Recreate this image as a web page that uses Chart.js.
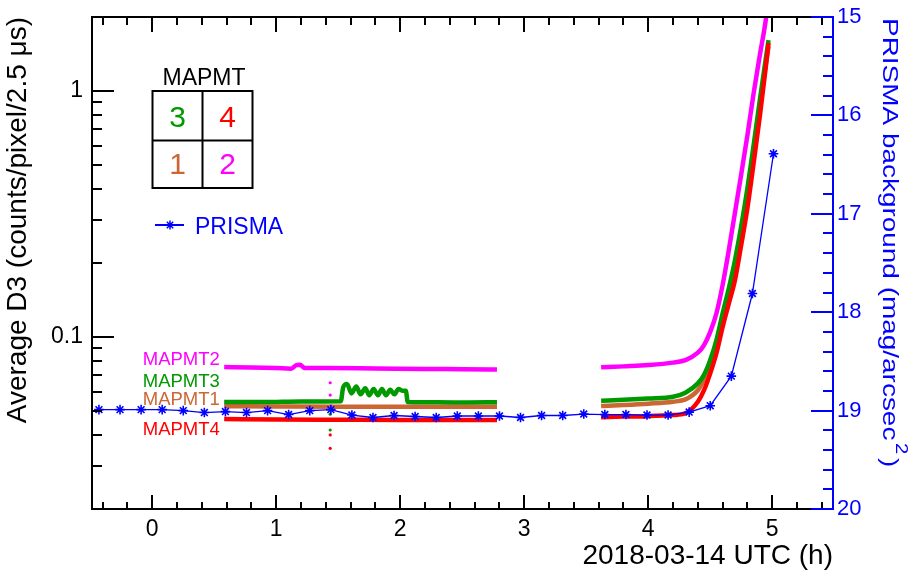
<!DOCTYPE html>
<html><head><meta charset="utf-8">
<script src="https://cdn.jsdelivr.net/npm/chart.js@4.4.0/dist/chart.umd.min.js"></script>
<style>html,body{margin:0;padding:0;background:#fff}canvas{display:block}</style>
</head><body>
<canvas id="c" width="912" height="576"></canvas>
<script>
// ---------------- data ----------------
const xTickValues = [0, 1, 2, 3, 4, 5];
const xTickLabels = ['0', '1', '2', '3', '4', '5'];
const yTickValues = [0.1, 1];
const yTickLabels = ['0.1', '1'];
const y2TickValues = [15, 16, 17, 18, 19, 20];
const y2TickLabels = ['15', '16', '17', '18', '19', '20'];

const prismaHours = [-0.43, -0.26, -0.09, 0.08, 0.25, 0.42, 0.59, 0.76, 0.93, 1.10, 1.27, 1.44, 1.61, 1.78, 1.95, 2.12, 2.29, 2.46, 2.63, 2.80, 2.97, 3.14, 3.31, 3.48, 3.65, 3.82, 3.99, 4.16, 4.33, 4.50, 4.67, 4.84, 5.01];
const prismaMag = [18.99, 18.99, 18.99, 18.99, 19.00, 19.02, 19.01, 19.02, 19.00, 19.04, 19.00, 18.99, 19.045, 19.07, 19.05, 19.06, 19.07, 19.055, 19.055, 19.055, 19.07, 19.05, 19.05, 19.035, 19.04, 19.04, 19.045, 19.045, 19.015, 18.95, 18.65, 17.81, 16.39];

const mapmt2Hours = [0.58, 0.8, 1.0, 1.12, 1.16, 1.19, 1.23, 1.4, 1.8, 2.2, 2.5, 2.78, 3.2, 3.62, 3.8, 4.0, 4.2, 4.3, 4.4, 4.45, 4.5, 4.55, 4.6, 4.65, 4.7, 4.75, 4.8, 4.85, 4.9, 4.95, 5.0];
const mapmt2D3 = [0.0755, 0.0752, 0.0748, 0.0744, 0.0768, 0.0772, 0.0748, 0.0748, 0.0745, 0.0742, 0.0740, 0.0738, null, 0.0753, 0.0760, 0.0769, 0.0787, 0.0806, 0.0864, 0.0928, 0.105, 0.125, 0.163, 0.226, 0.322, 0.46, 0.662, 0.98, 1.40, 1.98, 3.3];

const mapmt3Hours = [0.58, 0.9, 1.2, 1.52, 1.54, 1.57, 1.607, 1.645, 1.68, 1.718, 1.75, 1.785, 1.82, 1.852, 1.885, 1.919, 1.952, 1.986, 2.02, 2.045, 2.06, 2.3, 2.55, 2.78, 3.2, 3.62, 3.8, 4.0, 4.2, 4.3, 4.4, 4.45, 4.5, 4.55, 4.6, 4.65, 4.7, 4.75, 4.8, 4.85, 4.9, 4.95, 4.97];
const mapmt3D3 = [0.0545, 0.0544, 0.0547, 0.0548, 0.0625, 0.0645, 0.059, 0.063, 0.0585, 0.062, 0.058, 0.0615, 0.058, 0.0615, 0.058, 0.061, 0.0585, 0.0615, 0.0605, 0.0605, 0.0545, 0.0543, 0.0542, 0.0543, null, 0.0551, 0.0556, 0.0563, 0.0572, 0.0594, 0.0648, 0.0702, 0.0806, 0.0972, 0.125, 0.158, 0.206, 0.283, 0.403, 0.603, 0.919, 1.375, 1.61];

const mapmt1Hours = [0.58, 1.0, 1.5, 2.0, 2.4, 2.78, 3.2, 3.62, 3.8, 4.0, 4.2, 4.3, 4.4, 4.45, 4.5, 4.55, 4.6, 4.65, 4.7, 4.75, 4.8, 4.85, 4.9, 4.95, 4.97];
const mapmt1D3 = [0.0523, 0.0522, 0.0521, 0.0521, 0.0521, 0.0521, null, 0.0524, 0.0529, 0.0536, 0.0546, 0.0558, 0.0608, 0.0669, 0.0756, 0.0914, 0.117, 0.147, 0.191, 0.262, 0.374, 0.565, 0.869, 1.30, 1.52];

const mapmt4Hours = [0.58, 1.0, 1.5, 2.0, 2.4, 2.78, 3.2, 3.62, 3.8, 4.0, 4.2, 4.3, 4.4, 4.45, 4.5, 4.55, 4.6, 4.65, 4.7, 4.75, 4.8, 4.85, 4.9, 4.95, 4.97];
const mapmt4D3 = [0.0464, 0.0462, 0.0461, 0.0460, 0.0460, 0.0460, null, 0.0472, 0.0475, 0.0477, 0.0482, 0.049, 0.0546, 0.0608, 0.0712, 0.0859, 0.110, 0.137, 0.171, 0.237, 0.335, 0.51, 0.79, 1.275, 1.567];

const outlierHours = [1.435, 1.435];
const outlier2D3 = [0.0652, 0.0581];
const outlier3D3 = [0.0486, 0.0419];
const outlier4D3 = [0.0400, 0.0353];

// series label anchors (hours, D3)
const seriesLabels = ['MAPMT2', 'MAPMT3', 'MAPMT1', 'MAPMT4'];
const seriesLabelD3 = [0.0804, 0.0658, 0.0554, 0.0418];

// ---------------- styles ----------------
const C_MAG = '#ff00ff', C_GRN = '#009900', C_BRN = 'rgb(204,102,51)', C_RED = '#ff0000', C_BLU = '#0000ff';
const FONT = '"Liberation Sans", Arial, Helvetica, sans-serif';
Chart.defaults.font.family = FONT;

const pts = (xs, ys) => xs.map((x, i) => ({x: x, y: ys[i]}));
const lineDs = (label, xs, ys, color) => ({
  label, data: pts(xs, ys), borderColor: color, backgroundColor: color,
  borderWidth: 4.5, pointRadius: 0, spanGaps: false, cubicInterpolationMode: 'monotone', yAxisID: 'y'
});
const dotDs = (label, xs, ys, color) => ({
  label, data: pts(xs, ys), showLine: false, borderColor: color, backgroundColor: color,
  pointRadius: 1.6, pointBorderWidth: 0, yAxisID: 'y'
});

function drawTicks(chart) {
  const ctx = chart.ctx;
  const a = chart.chartArea;
  const sx = chart.scales.x, sy = chart.scales.y, sy2 = chart.scales.y2;
  ctx.fillStyle = '#000';
  ctx.fillRect(a.left - 1, a.top - 1, a.right - a.left + 1, 2);
  for (let i = -3; i <= 28; i++) {
    const v = i / 5;
    if (v < sx.min || v > sx.max) continue;
    const px = Math.round(sx.getPixelForValue(v));
    const major = (i % 5 === 0);
    const lb = major ? 14 : 7, lt = major ? 15 : 8;
    ctx.fillRect(px - 1, a.bottom - lb, 2, lb);
    ctx.fillRect(px - 1, a.top, 2, lt);
  }
  for (let e = -2; e <= 0; e++) {
    for (let m = 1; m <= 9; m++) {
      const v = m * Math.pow(10, e);
      if (v < sy.min * 0.999 || v > sy.max * 1.001) continue;
      const py = Math.round(sy.getPixelForValue(v));
      const len = (m === 1) ? 22 : 10;
      ctx.fillRect(a.left, py - 1, len, 2);
    }
  }
  ctx.fillStyle = C_BLU;
  for (let k = 0; k <= 25; k++) {
    const v = 15 + k / 5;
    const py = Math.round(sy2.getPixelForValue(v));
    const len = (k % 5 === 0) ? 22 : 10;
    ctx.fillRect(a.right - len, py - 1, len, 2);
  }
}

function drawDecor(chart) {
  const {ctx, scales} = chart;
  const sx = scales.x, sy = scales.y;
  const labelColors = [C_MAG, C_GRN, C_BRN, C_RED];
  ctx.font = '18.5px ' + FONT;
  ctx.textAlign = 'left'; ctx.textBaseline = 'middle';
  seriesLabels.forEach((t, i) => {
    ctx.fillStyle = labelColors[i];
    ctx.fillText(t, sx.getPixelForValue(-0.077), sy.getPixelForValue(seriesLabelD3[i]));
  });
  ctx.fillStyle = '#000';
  ctx.font = '23px ' + FONT;
  ctx.textAlign = 'center'; ctx.textBaseline = 'alphabetic';
  ctx.fillText('MAPMT', 204, 84.5);
  ctx.lineWidth = 2; ctx.strokeStyle = '#000';
  ctx.strokeRect(152.5, 91, 100, 97);
  ctx.beginPath();
  ctx.moveTo(202.5, 91); ctx.lineTo(202.5, 188);
  ctx.moveTo(152.5, 140.5); ctx.lineTo(252.5, 140.5);
  ctx.stroke();
  ctx.font = '30px ' + FONT;
  const cells = [['3', C_GRN, 177.5, 126.7], ['4', C_RED, 227.5, 126.7], ['1', C_BRN, 177.5, 174], ['2', C_MAG, 227.5, 174]];
  cells.forEach(c => { ctx.fillStyle = c[1]; ctx.fillText(c[0], c[2], c[3]); });
  ctx.strokeStyle = C_BLU; ctx.lineWidth = 2;
  ctx.beginPath(); ctx.moveTo(155, 225); ctx.lineTo(184, 225); ctx.stroke();
  ctx.lineWidth = 1.5;
  ctx.beginPath();
  const r = 4.5, cx = 170, cy = 225, d = r * 0.7071;
  ctx.moveTo(cx - r, cy); ctx.lineTo(cx + r, cy);
  ctx.moveTo(cx, cy - r); ctx.lineTo(cx, cy + r);
  ctx.moveTo(cx - d, cy - d); ctx.lineTo(cx + d, cy + d);
  ctx.moveTo(cx - d, cy + d); ctx.lineTo(cx + d, cy - d);
  ctx.stroke();
  ctx.fillStyle = C_BLU;
  ctx.font = '23px ' + FONT;
  ctx.textAlign = 'left'; ctx.textBaseline = 'alphabetic';
  ctx.fillText('PRISMA', 195, 233.5);
  // right axis title, stretched along its length like the original
  ctx.save();
  ctx.translate(889.5, 18);
  ctx.rotate(Math.PI / 2);
  ctx.scale(1.27, 1);
  ctx.fillStyle = C_BLU;
  ctx.textAlign = 'left'; ctx.textBaseline = 'middle';
  ctx.font = '22px ' + FONT;
  const main = 'PRISMA background (mag/arcsec';
  ctx.fillText(main, 0, 0);
  let w = ctx.measureText(main).width + 2;
  ctx.font = '16px ' + FONT;
  ctx.fillText('2', w, -11);
  w += ctx.measureText('2').width + 3;
  ctx.font = '22px ' + FONT;
  ctx.fillText(')', w, 0);
  ctx.restore();
}

const decor = {
  id: 'decor',
  afterDraw(chart) {
    const ctx = chart.ctx;
    ctx.save();
    drawTicks(chart);
    ctx.restore();
    ctx.save();
    drawDecor(chart);
    ctx.restore();
  }
};

const noPad = s => { s.paddingTop = 0; s.paddingBottom = 0; };

new Chart(document.getElementById('c'), {
  type: 'line',
  data: {
    datasets: [
      {
        label: 'PRISMA', data: pts(prismaHours, prismaMag), yAxisID: 'y2',
        borderColor: C_BLU, backgroundColor: C_BLU, borderWidth: 1.3,
        pointStyle: 'star', pointRadius: 4.8, pointBorderWidth: 1.6, pointBorderColor: C_BLU,
        tension: 0
      },
      dotDs('MAPMT4 outliers', outlierHours, outlier4D3, C_RED),
      dotDs('MAPMT3 outliers', outlierHours, outlier3D3, C_GRN),
      dotDs('MAPMT2 outliers', outlierHours, outlier2D3, C_MAG),
      lineDs('MAPMT4', mapmt4Hours, mapmt4D3, C_RED),
      lineDs('MAPMT3', mapmt3Hours, mapmt3D3, C_GRN),
      lineDs('MAPMT1', mapmt1Hours, mapmt1D3, C_BRN),
      lineDs('MAPMT2', mapmt2Hours, mapmt2D3, C_MAG)
    ]
  },
  options: {
    responsive: false, animation: false, devicePixelRatio: 1,
    layout: {padding: {top: 17, left: 0, right: 0, bottom: 0}},
    plugins: {legend: {display: false}, tooltip: {enabled: false}},
    scales: {
      x: {
        type: 'linear', position: 'bottom', min: -0.486, max: 5.49,
        afterBuildTicks: s => { s.ticks = xTickValues.map(v => ({value: v})); },
        afterFit: s => { s.height = 67; s.paddingLeft = 0; s.paddingRight = 0; },
        ticks: {color: '#000', font: {size: 23}, padding: 7, maxRotation: 0, autoSkip: false,
          callback: (v) => xTickLabels[xTickValues.indexOf(v)] ?? ''},
        grid: {display: false, drawTicks: false, tickLength: 0},
        border: {display: true, color: '#000', width: 2},
        title: {display: true, text: '2018-03-14 UTC (h)', align: 'end', color: '#000',
          font: {size: 28}, padding: {top: 0, bottom: 2.5}}
      },
      y: {
        type: 'logarithmic', position: 'left', min: 0.02, max: 2,
        afterBuildTicks: s => { s.ticks = yTickValues.map(v => ({value: v})); },
        afterFit: s => { s.width = 92; noPad(s); },
        ticks: {color: '#000', font: {size: 23}, padding: 9, autoSkip: false,
          callback: (v) => yTickLabels[yTickValues.indexOf(v)] ?? ''},
        grid: {display: false, drawTicks: false, tickLength: 0},
        border: {display: true, color: '#000', width: 2},
        title: {display: true, text: 'Average D3 (counts/pixel/2.5 μs)', align: 'end', color: '#000',
          font: {size: 28}, padding: {top: 1.5, bottom: 0}}
      },
      y2: {
        type: 'linear', position: 'right', min: 15, max: 20, reverse: true,
        afterBuildTicks: s => { s.ticks = y2TickValues.map(v => ({value: v})); },
        afterFit: s => { s.width = 79; noPad(s); },
        ticks: {color: C_BLU, font: {size: 22}, padding: 4, autoSkip: false,
          callback: (v) => y2TickLabels[y2TickValues.indexOf(v)] ?? ''},
        grid: {display: false, drawTicks: false, tickLength: 0},
        border: {display: true, color: C_BLU, width: 2}
      }
    }
  },
  plugins: [decor]
});
</script>
</body></html>
